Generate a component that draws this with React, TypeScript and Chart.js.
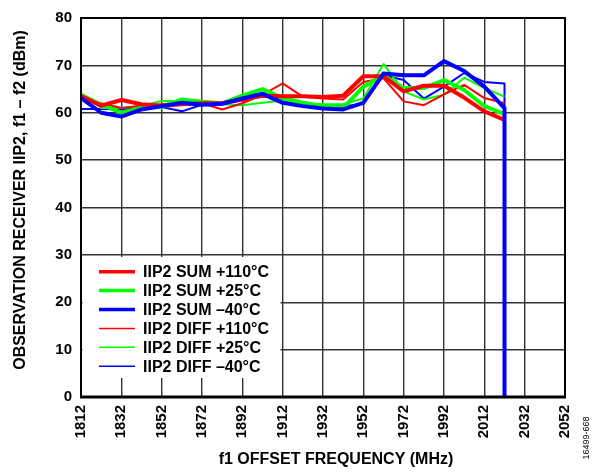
import React, { useEffect, useRef } from 'react';
import { Chart, registerables } from 'chart.js';

Chart.register(...registerables);

const freqs = [1812, 1822, 1832, 1842, 1852, 1862, 1872, 1882, 1892, 1902, 1912, 1922, 1932, 1942, 1952, 1962, 1972, 1982, 1992, 2002, 2012, 2022];
const sumHot = [63.5, 61.5, 62.7, 61.8, 61.5, 61.8, 62.0, 62.0, 62.8, 63.6, 63.5, 63.5, 63.3, 63.6, 67.7, 67.7, 64.5, 65.7, 65.7, 63.2, 60.3, 58.5];
const sumRoom = [63.8, 61.7, 60.0, 61.0, 61.2, 62.8, 62.3, 62.0, 63.6, 65.0, 63.1, 62.1, 61.4, 61.0, 65.5, 67.9, 65.2, 65.2, 66.9, 64.8, 61.4, 59.7];
const sumCold = [63.1, 60.0, 59.2, 60.7, 61.4, 62.1, 61.7, 61.9, 63.0, 64.0, 62.1, 61.4, 60.9, 60.7, 62.1, 68.3, 67.9, 67.9, 70.9, 68.8, 65.5, 61.0];
const diffHot = [63.0, 62.0, 61.0, 61.5, 61.8, 62.2, 62.0, 60.7, 62.0, 63.8, 66.2, 63.4, 63.0, 62.8, 66.5, 67.3, 62.4, 61.6, 63.9, 65.9, 63.1, 62.0];
const diffRoom = [64.0, 61.0, 61.0, 61.5, 62.5, 62.5, 62.2, 61.8, 61.6, 62.1, 62.6, 62.0, 61.8, 61.8, 63.0, 70.3, 64.5, 62.8, 63.8, 67.4, 65.2, 63.4];
const diffCold = [60.8, 60.8, 60.7, 61.0, 61.2, 60.3, 61.7, 62.0, 63.2, 63.7, 62.6, 62.2, 61.5, 61.3, 61.9, 67.9, 66.9, 63.0, 65.5, 68.4, 66.5, 66.2];
const dropFreq = 2022;
const dropValue = 0;

const xTicks = [1812, 1832, 1852, 1872, 1892, 1912, 1932, 1952, 1972, 1992, 2012, 2032, 2052];
const yTicks = [0, 10, 20, 30, 40, 50, 60, 70, 80];

const legendLabels = [
  'IIP2 SUM +110°C',
  'IIP2 SUM +25°C',
  'IIP2 SUM \u201340°C',
  'IIP2 DIFF +110°C',
  'IIP2 DIFF +25°C',
  'IIP2 DIFF \u201340°C',
];
const xTitle = 'f1 OFFSET FREQUENCY (MHz)';
const yTitle = 'OBSERVATION RECEIVER IIP2, f1 \u2013 f2 (dBm)';
const figId = '16499-668';

const RED = '#ff0000';
const GREEN = '#00ff00';
const BLUE = '#0000ff';
const FONT = '"Liberation Sans", Arial, Helvetica, sans-serif';

const toPts = (arr: number[]) => freqs.map((f, i) => ({ x: f, y: arr[i] }));

export default function App() {
  const ref = useRef<HTMLCanvasElement | null>(null);

  useEffect(() => {
    if (!ref.current) return;
    const colors = [RED, GREEN, BLUE, RED, GREEN, BLUE];
    const widths = [4, 4, 4, 2, 2, 2];

    const customDraw = {
      id: 'customDraw',
      afterDraw(chart: any) {
        const { ctx, chartArea: a } = chart;
        ctx.save();
        // frame
        ctx.strokeStyle = '#000';
        ctx.lineWidth = 2;
        ctx.beginPath();
        ctx.moveTo(a.left, a.bottom);
        ctx.lineTo(a.left, a.top);
        ctx.lineTo(a.right, a.top);
        ctx.lineTo(a.right, a.bottom);
        ctx.stroke();
        ctx.lineWidth = 3;
        ctx.beginPath();
        ctx.moveTo(a.left - 1, a.bottom);
        ctx.lineTo(a.right + 1, a.bottom);
        ctx.stroke();

        // legend
        const bx = a.left + 1.5;
        const by = 257;
        ctx.fillStyle = '#fff';
        ctx.fillRect(bx, by, 198, 121);
        ctx.font = `bold 16px ${FONT}`;
        ctx.textBaseline = 'middle';
        ctx.textAlign = 'left';
        for (let i = 0; i < legendLabels.length; i++) {
          const yy = 271.7 + i * 18.9;
          ctx.strokeStyle = colors[i];
          ctx.lineWidth = widths[i] - 0.5;
          ctx.beginPath();
          ctx.moveTo(a.left + 18, yy);
          ctx.lineTo(a.left + 54, yy);
          ctx.stroke();
          ctx.fillStyle = '#000';
          ctx.fillText(legendLabels[i], a.left + 62, yy + 1);
        }

        // axis titles
        ctx.fillStyle = '#000';
        ctx.font = `bold 16px ${FONT}`;
        ctx.textAlign = 'center';
        ctx.textBaseline = 'middle';
        ctx.fillText(xTitle, 336, 460);
        ctx.save();
        ctx.translate(21, 200);
        ctx.rotate(-Math.PI / 2);
        ctx.fillText(yTitle, 0, 0);
        ctx.restore();

        // figure id
        ctx.save();
        ctx.font = `9px ${FONT}`;
        ctx.translate(587, 438);
        ctx.rotate(-Math.PI / 2);
        ctx.textAlign = 'center';
        ctx.textBaseline = 'middle';
        ctx.fillText(figId, 0, 0);
        ctx.restore();
        ctx.restore();
      },
    };

    const datasets = [
      { label: legendLabels[0], data: toPts(sumHot), borderColor: RED, borderWidth: 4, order: 1 },
      { label: legendLabels[1], data: toPts(sumRoom), borderColor: GREEN, borderWidth: 4, order: 2 },
      { label: legendLabels[2], data: [...toPts(sumCold), { x: dropFreq, y: dropValue }], borderColor: BLUE, borderWidth: 4, order: 0 },
      { label: legendLabels[3], data: toPts(diffHot), borderColor: RED, borderWidth: 2, order: 3 },
      { label: legendLabels[4], data: toPts(diffRoom), borderColor: GREEN, borderWidth: 2, order: 4 },
      { label: legendLabels[5], data: [...toPts(diffCold), { x: dropFreq, y: dropValue }], borderColor: BLUE, borderWidth: 2, order: 5 },
    ].map((d) => ({
      ...d,
      backgroundColor: d.borderColor,
      pointRadius: 0,
      tension: 0,
      fill: false,
      borderJoinStyle: 'round' as const,
    }));

    const chart = new Chart(ref.current, {
      type: 'line',
      data: { datasets },
      options: {
        animation: false,
        responsive: false,
        maintainAspectRatio: false,
        layout: { padding: { left: 0, top: 10, right: 32, bottom: 0 } },
        plugins: {
          legend: { display: false },
          tooltip: { enabled: false },
          title: { display: false },
        },
        scales: {
          x: {
            type: 'linear',
            min: 1812,
            max: 2052,
            afterBuildTicks: (s: any) => {
              s.ticks = xTicks.map((v) => ({ value: v }));
            },
            afterFit: (s: any) => {
              s.height = 76;
            },
            grid: { color: '#333', lineWidth: 1.4, drawTicks: false },
            border: { display: false },
            ticks: {
              autoSkip: false,
              minRotation: 90,
              maxRotation: 90,
              padding: 8,
              color: '#000',
              font: { family: FONT, size: 15, weight: 'bold' },
              callback: (v: any) => String(v),
            },
          },
          y: {
            type: 'linear',
            min: 0,
            max: 80,
            afterBuildTicks: (s: any) => {
              s.ticks = yTicks.map((v) => ({ value: v }));
            },
            afterFit: (s: any) => {
              s.width = 81;
            },
            grid: { color: '#333', lineWidth: 1.4, drawTicks: false },
            border: { display: false },
            ticks: {
              padding: 9,
              color: '#000',
              font: { family: FONT, size: 15, weight: 'bold' },
              callback: (v: any) => String(v),
            },
          },
        },
      },
      plugins: [customDraw],
    } as any);

    return () => chart.destroy();
  }, []);

  return (
    <div style={{ position: 'absolute', left: 0, top: 0, width: 597, height: 473, background: '#fff' }}>
      <canvas ref={ref} width={597} height={473} style={{ display: 'block', width: 597, height: 473 }} />
    </div>
  );
}
